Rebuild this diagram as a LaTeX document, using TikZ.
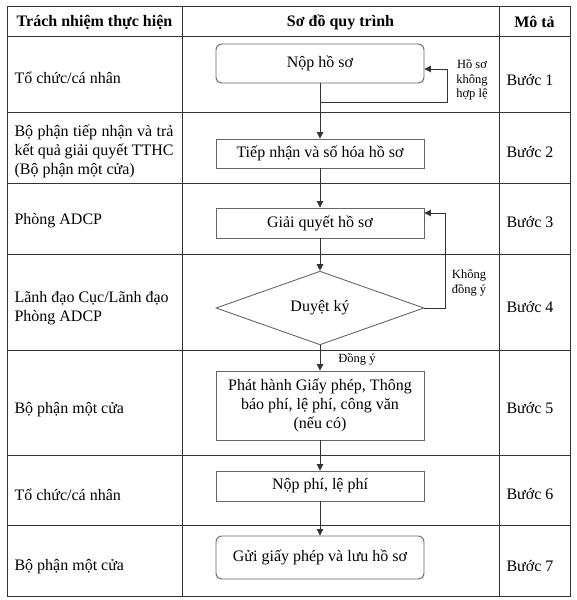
\documentclass[tikz,border=0pt]{standalone}
\usepackage{fontspec}
\setmainfont{Liberation Serif}
\usetikzlibrary{arrows.meta,shapes.geometric}
\begin{document}
\begin{tikzpicture}[x=1pt,y=-1pt, font=\fontsize{16}{19}\selectfont,
  grid/.style={draw=black!80, line width=0.9pt},
  box/.style={draw=black!60, line width=0.9pt, minimum width=208pt, inner sep=0pt, align=center},
  rbox/.style={box, rounded corners=6pt},
  arr/.style={draw=black!80, line width=0.9pt, -{Triangle[length=6.5pt,width=6.5pt]}},
  ln/.style={draw=black!80, line width=0.9pt},
  small/.style={font=\fontsize{12.5}{14.5}\selectfont, align=center},
  lab/.style={anchor=west, align=left},
  steplab/.style={anchor=west},
  head/.style={font=\fontsize{16}{19}\selectfont\bfseries},
]
\useasboundingbox (0,0) rectangle (576,600);
% table
\draw[grid] (7,6) rectangle (570,596);
\draw[grid] (182,6) -- (182,596);
\draw[grid] (499,6) -- (499,596);
\foreach \yy in {36,112,183,254,350,455,525} \draw[grid] (7,\yy) -- (570,\yy);
% header
\node[head] (h1) at (94.5,22) {Trách nhiệm thực hiện};
\node[head] (h2) at (340.5,22) {Sơ đồ quy trình};
\node[head] (h3) at (534.5,22) {Mô tả};
% left column
\node[lab] (l1) at (11,78) {Tổ chức/cá nhân};
\node[lab, text width=159pt, align=justify] (l2) at (11,151) {Bộ phận tiếp nhận và trả kết quả giải quyết TTHC (Bộ phận một cửa)};
\node[lab] (l3) at (11,221) {Phòng ADCP};
\node[lab] (l4) at (11,308) {Lãnh đạo Cục/Lãnh đạo\\Phòng ADCP};
\node[lab] (l5) at (11,410) {Bộ phận một cửa};
\node[lab] (l6) at (11,495) {Tổ chức/cá nhân};
\node[lab] (l7) at (11,567) {Bộ phận một cửa};
% right column
\node[steplab] (s1) at (503,80) {Bước 1};
\node[steplab] (s2) at (503,152) {Bước 2};
\node[steplab] (s3) at (503,222) {Bước 3};
\node[steplab] (s4) at (503,307) {Bước 4};
\node[steplab] (s5) at (503,408) {Bước 5};
\node[steplab] (s6) at (503,494) {Bước 6};
\node[steplab] (s7) at (503,566) {Bước 7};
% flow
\node[rbox, minimum height=39pt] (n1) at (320,63.5) {Nộp hồ sơ};
\node[box, minimum height=29pt] (n2) at (320,153.5) {Tiếp nhận và số hóa hồ sơ};
\node[box, minimum height=30pt] (n3) at (320,223) {Giải quyết hồ sơ};
\node[diamond, draw=black!60, line width=0.9pt, minimum width=208pt, minimum height=58pt, inner sep=0pt] (n4) at (320,308) {Duyệt ký};
\node[box, minimum height=69pt] (n5) at (320,405.5) {Phát hành Giấy phép, Thông\\báo phí, lệ phí, công văn\\(nếu có)};
\node[box, minimum height=30pt] (n6) at (320,486) {Nộp phí, lệ phí};
\node[rbox, minimum height=43pt] (n7) at (320,557.5) {Gửi giấy phép và lưu hồ sơ};
\coordinate (j1) at (320,102);
\coordinate (r1) at (447,102);
\coordinate (r2) at (445,308);
\draw[arr] (n1.south) -- (n2.north);
\draw[arr] (j1) -- (r1) |- ([yshift=-5.5pt]n1.east);
\draw[arr] (n2.south) -- (n3.north);
\draw[arr] (n3.south) -- (n4.north);
\draw[arr] (n4.east) -- (r2) |- ([yshift=10pt]n3.east);
\draw[arr] (n4.south) -- (n5.north);
\draw[arr] (n5.south) -- (n6.north);
\draw[arr] (n6.south) -- (n7.north);
% labels
\node[small] (t1) at (472,80) {Hồ sơ\\không\\hợp lệ};
\node[small] (t2) at (469,283) {Không\\đồng ý};
\node[small] (t3) at (357,359) {Đồng ý};
\end{tikzpicture}
\end{document}
